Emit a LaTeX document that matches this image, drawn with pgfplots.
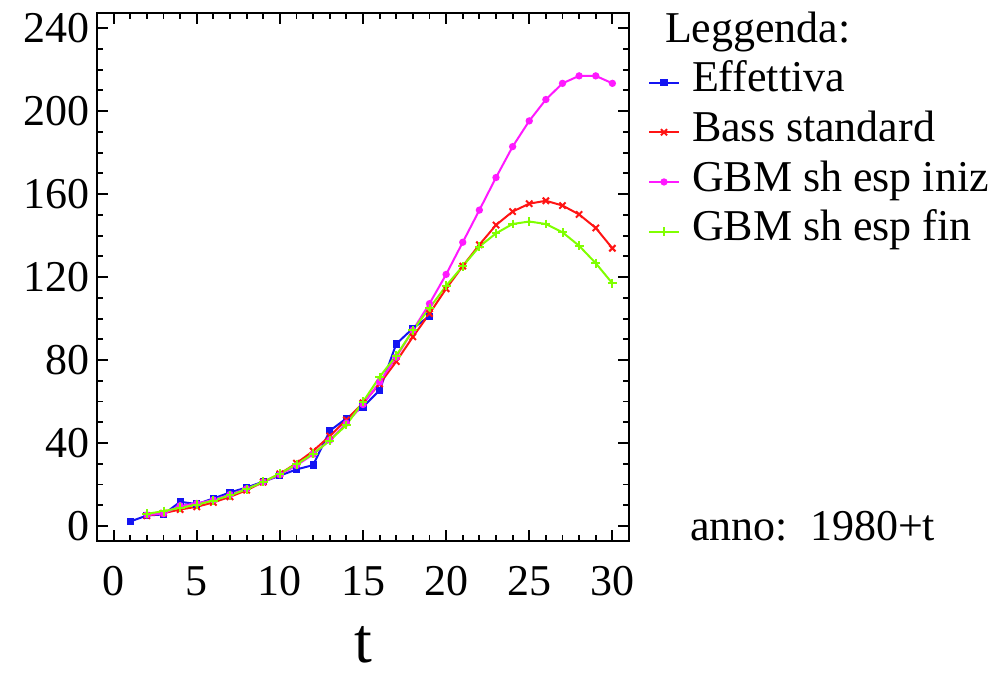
\documentclass[border=0pt]{standalone}
\usepackage{fontspec}
\setmainfont{Liberation Serif}
\usepackage{pgfplots}
\pgfplotsset{compat=1.18}
\definecolor{cblue}{rgb}{0.08,0.08,0.95}
\definecolor{cred}{rgb}{1,0.08,0.08}
\definecolor{cmag}{rgb}{1,0.1,1}
\definecolor{cgreen}{rgb}{0.5,1,0}
\begin{document}
\begin{tikzpicture}
\useasboundingbox (0,0) rectangle (500pt,338.5pt);
\begin{axis}[
  at={(48.5pt,68pt)}, anchor=south west,
  scale only axis, width=266pt, height=264pt,
  xmin=-1, xmax=31, ymin=-7.2, ymax=247.3,
  xtick={0,5,...,30}, ytick={0,40,...,240},
  minor x tick num=4, minor y tick num=3,
  major tick length=5.5pt, minor tick length=3pt,
  tick align=inside, tick pos=both,
  axis line style={line width=1pt}, every tick/.style={line width=0.9pt, black},
  /pgf/number format/assume math mode=true,
  ticklabel style={font=\fontsize{22}{26}\selectfont},
  xticklabel style={anchor=base, yshift=-27pt},
  xlabel={t},
  xlabel style={font=\fontsize{32}{36}\selectfont, inner sep=0pt, outer sep=0pt, at={(axis description cs:0.5,0)}, anchor=base, yshift=-60.5pt},
  clip=false,
  legend cell align=left,
  legend style={at={(1,1)}, anchor=north west, xshift=9.5pt, yshift=2.5pt, draw=none, fill=none,
    inner sep=0pt, outer sep=0pt, row sep=0pt, column sep=6pt,
    font=\fontsize{22}{25}\selectfont,
    nodes={inner sep=0pt, text height=17pt, text depth=7.85pt}},
  legend image code/.code={\draw[mark repeat=2,mark phase=2,#1] plot coordinates {(0pt,0pt) (7.5pt,0pt) (15pt,0pt)};},
]
\addlegendimage{empty legend}
\addlegendentry{\hspace*{-13.5pt}Leggenda:}
\addplot[cblue, line width=1pt, mark=square*, mark size=1.3pt] coordinates {
(1,2.2) (2,5.1) (3,5.6) (4,11.7) (5,10.6) (6,13.3) (7,16.2) (8,18.6) (9,21.4) (10,24.3)
(11,27.3) (12,29.4) (13,45.9) (14,51.9) (15,57.4) (16,65.5) (17,87.8) (18,95.3) (19,101.2)};
\addlegendentry{Effettiva}
\addplot[cred, line width=1pt, mark=x, mark size=2.2pt] coordinates {
(2,5.0) (3,6.2) (4,8.0) (5,9.3) (6,11.4) (7,14.1) (8,17.3) (9,21.2) (10,25.2) (11,30.3)
(12,36.2) (13,43.4) (14,51.2) (15,59.4) (16,68.5) (17,79.3) (18,91.2) (19,102.4) (20,114.4)
(21,125.3) (22,135.6) (23,145.1) (24,151.6) (25,155.4) (26,156.8) (27,154.5) (28,150.2) (29,143.7) (30,133.9)};
\addlegendentry{Bass standard}
\addplot[cmag, line width=1pt, mark=*, mark size=1.3pt] coordinates {
(2,5.4) (3,6.0) (4,9.8) (5,10.9) (6,12.6) (7,15.2) (8,18.0) (9,21.2) (10,24.8) (11,29.2)
(12,34.6) (13,41.4) (14,49.6) (15,58.6) (16,69.4) (17,81.4) (18,94.4) (19,107.2) (20,121.3)
(21,136.8) (22,152.3) (23,168.0) (24,182.9) (25,195.3) (26,205.6) (27,213.4) (28,217.0) (29,217.0) (30,213.4)};
\addlegendentry{GBM sh esp iniz}
\addplot[cgreen, line width=1pt, mark=+, mark size=2.2pt] coordinates {
(2,5.9) (3,7.2) (4,8.8) (5,10.3) (6,12.3) (7,14.8) (8,17.8) (9,21.3) (10,25.3) (11,29.8)
(12,34.8) (13,41.2) (14,48.7) (15,59.9) (16,71.9) (17,82.2) (18,94.3) (19,105.1) (20,115.8)
(21,125.3) (22,134.7) (23,141.1) (24,145.6) (25,146.8) (26,145.6) (27,141.6) (28,135.1) (29,126.7) (30,117.0)};
\addlegendentry{GBM sh esp fin}
\node[anchor=base west, inner sep=0pt, font=\fontsize{22}{25}\selectfont] at (rel axis cs:1,0) [xshift=30.5pt, yshift=0.5pt] {anno:\ \ 1980+t};
\end{axis}
\end{tikzpicture}
\end{document}
